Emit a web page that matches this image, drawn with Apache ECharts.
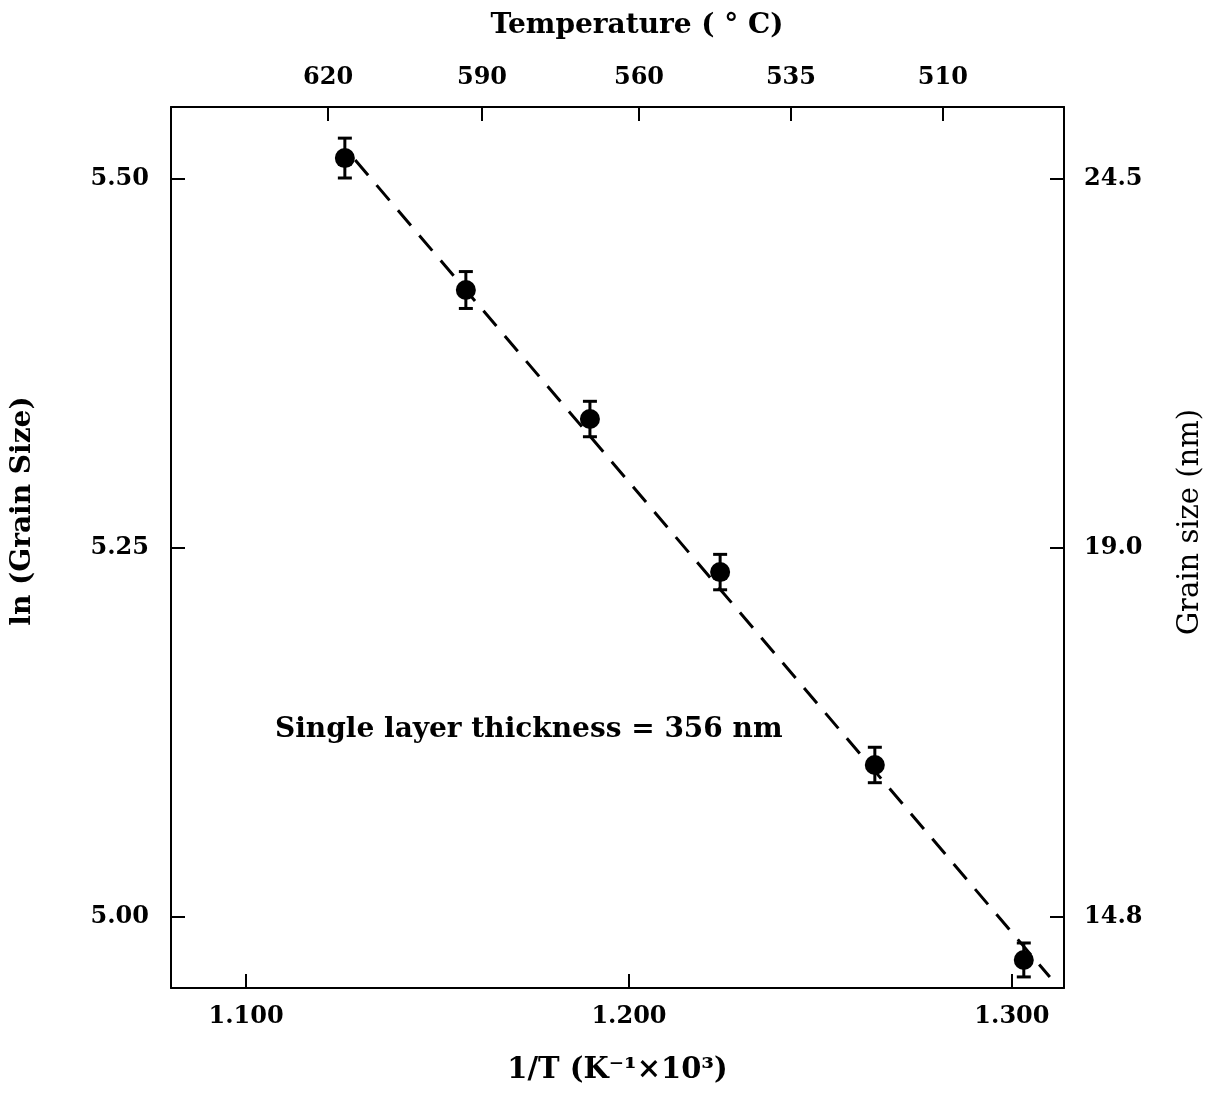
<!DOCTYPE html>
<html><head><meta charset="utf-8">
<script src="https://cdn.jsdelivr.net/npm/echarts@6/dist/echarts.min.js"></script>
<style>html,body{margin:0;padding:0;background:#fff}#c{width:1212px;height:1095px}</style>
</head><body><div id="c"></div>
<script>
// Data
const invT = [1.1258, 1.1574, 1.1898, 1.2238, 1.2642, 1.3031];      // 1/T (K^-1 x 10^3)
const lnGrain = [5.5142, 5.4248, 5.3374, 5.2337, 5.1030, 4.9709];   // ln(grain size)
const lnErr = [0.0135, 0.0125, 0.0120, 0.0120, 0.0120, 0.0115];     // error bar half-heights
const fitX = [1.1285, 1.3099];
const fitY = [5.5129, 4.9593];
const xTicks = [1.100, 1.200, 1.300];
const yTicks = [5.00, 5.25, 5.50];
const grainSizeLabels = ['14.8', '19.0', '24.5'];                  // right axis labels (nm)
const tempLabels = ['620', '590', '560', '535', '510'];             // top axis labels (°C)
const tempTickAt = [1.12141, 1.16162, 1.20261, 1.24230, 1.28198];   // where the original places them on the 1/T scale

const X_MIN = 1.0804, X_MAX = 1.3136, Y_MIN = 4.9519, Y_MAX = 5.5488;
const FONT = 'DejaVu Serif';
const lineStyle = {color: '#000', width: 2};
const tickStyle = {show: true, inside: true, length: 14, lineStyle: {color: '#000', width: 2}};
const labelBase = {fontFamily: FONT, fontWeight: 'bold', fontSize: 24, color: '#000'};
const nearest = (arr, v) => { let i = 0, d = 1e9; arr.forEach((t, k) => { if (Math.abs(t - v) < d) { d = Math.abs(t - v); i = k; } }); return i; };

const chart = echarts.init(document.getElementById('c'), null, {renderer: 'canvas'});
chart.setOption({
  animation: false,
  backgroundColor: '#fff',
  grid: {left: 171, right: 148, top: 107, bottom: 107},
  xAxis: [
    {type: 'value', min: X_MIN, max: X_MAX, position: 'bottom',
     axisLine: {show: true, lineStyle: lineStyle}, splitLine: {show: false},
     axisTick: Object.assign({customValues: xTicks}, tickStyle),
     axisLabel: Object.assign({customValues: xTicks, margin: 17, formatter: v => v.toFixed(3)}, labelBase),
     name: '1/T (K\u207B\u00B9\u00D710\u00B3)', nameLocation: 'middle', nameGap: 68,
     nameTextStyle: {fontFamily: FONT, fontWeight: 'bold', fontSize: 29, color: '#000'}},
    {type: 'value', min: X_MIN, max: X_MAX, position: 'top',
     axisLine: {show: true, lineStyle: lineStyle}, splitLine: {show: false},
     axisTick: Object.assign({customValues: tempTickAt}, tickStyle),
     axisLabel: Object.assign({customValues: tempTickAt, margin: 17,
       formatter: v => tempLabels[nearest(tempTickAt, v)]}, labelBase)}
  ],
  yAxis: [
    {type: 'value', min: Y_MIN, max: Y_MAX, position: 'left',
     axisLine: {show: true, lineStyle: lineStyle}, splitLine: {show: false},
     axisTick: Object.assign({customValues: yTicks}, tickStyle),
     axisLabel: Object.assign({customValues: yTicks, margin: 22, formatter: v => v.toFixed(2)}, labelBase)},
    {type: 'value', min: Y_MIN, max: Y_MAX, position: 'right',
     axisLine: {show: true, lineStyle: lineStyle}, splitLine: {show: false},
     axisTick: Object.assign({customValues: yTicks}, tickStyle),
     axisLabel: Object.assign({customValues: yTicks, margin: 20,
       formatter: v => grainSizeLabels[nearest(yTicks, v)]}, labelBase)}
  ],
  graphic: [
    {type: 'text', x: 637, y: 26, z: 10,
     style: {text: 'Temperature ( \u00B0 C)', font: 'bold 28px "DejaVu Serif"', fill: '#000', align: 'center', verticalAlign: 'middle'}},
    {type: 'text', x: 23, y: 511, rotation: Math.PI / 2, z: 10,
     style: {text: 'ln (Grain Size)', font: 'bold 28px "DejaVu Serif"', fill: '#000', align: 'center', verticalAlign: 'middle'}},
    {type: 'text', x: 1190, y: 522, rotation: Math.PI / 2, z: 10,
     style: {text: 'Grain size (nm)', font: '29px "DejaVu Serif"', fill: '#000', align: 'center', verticalAlign: 'middle'}},
    {type: 'text', left: 275, top: 716, z: 10,
     style: {text: 'Single layer thickness = 356 nm', font: 'bold 28px "DejaVu Serif"', fill: '#000'}}
  ],
  series: [
    {type: 'line', xAxisIndex: 0, yAxisIndex: 0, data: fitX.map((x, i) => [x, fitY[i]]),
     symbol: 'none', lineStyle: {color: '#000', width: 3, type: [20, 13]}, z: 2},
    {type: 'custom', xAxisIndex: 0, yAxisIndex: 0,
     data: invT.map((x, i) => [x, lnGrain[i] - lnErr[i], lnGrain[i] + lnErr[i]]),
     renderItem: (params, api) => {
       const lo = api.coord([api.value(0), api.value(1)]);
       const hi = api.coord([api.value(0), api.value(2)]);
       const w = 7;
       const st = {stroke: '#000', lineWidth: 3};
       return {type: 'group', children: [
         {type: 'line', shape: {x1: lo[0], y1: lo[1], x2: hi[0], y2: hi[1]}, style: st},
         {type: 'line', shape: {x1: lo[0] - w, y1: lo[1], x2: lo[0] + w, y2: lo[1]}, style: st},
         {type: 'line', shape: {x1: hi[0] - w, y1: hi[1], x2: hi[0] + w, y2: hi[1]}, style: st}
       ]};
     }, z: 3},
    {type: 'scatter', xAxisIndex: 0, yAxisIndex: 0, data: invT.map((x, i) => [x, lnGrain[i]]),
     symbol: 'circle', symbolSize: 20, itemStyle: {color: '#000', opacity: 1}, z: 4}
  ]
});
</script></body></html>
